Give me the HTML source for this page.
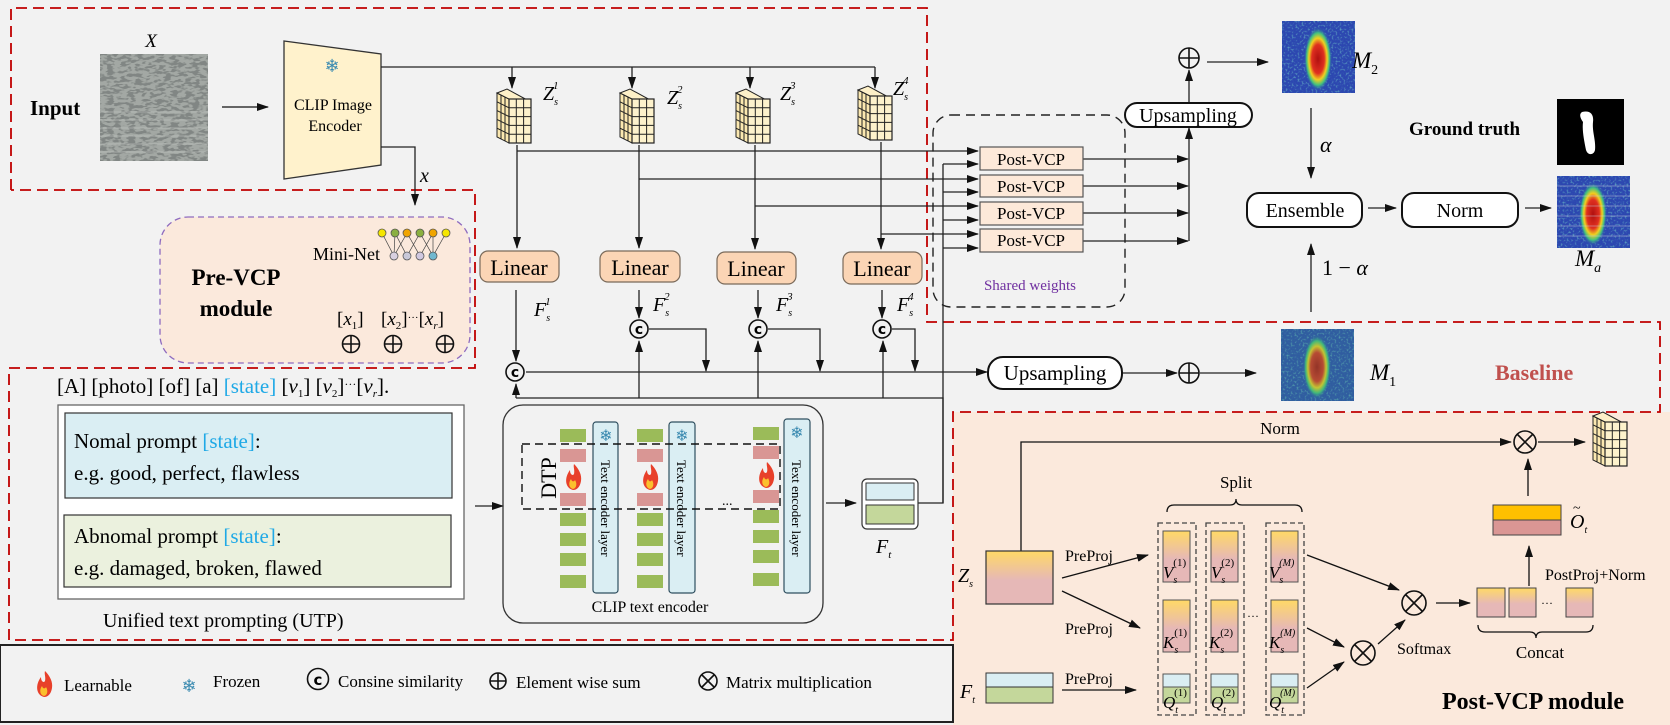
<!DOCTYPE html>
<html><head><meta charset="utf-8"><style>
html,body{margin:0;padding:0;background:#f2f2f2}
svg{display:block;font-family:"Liberation Serif",serif}
</style></head><body>
<svg width="1670" height="725" viewBox="0 0 1670 725" xmlns="http://www.w3.org/2000/svg">
<defs>
<marker id="a" markerUnits="userSpaceOnUse" markerWidth="12" markerHeight="10" refX="11" refY="5" orient="auto"><path d="M0,1 L12,5 L0,9 z" fill="#111"/></marker>
<filter id="tex" x="0" y="0" width="1" height="1"><feTurbulence type="fractalNoise" baseFrequency="0.14 0.35" numOctaves="2" seed="4"/><feColorMatrix type="matrix" values="0 0 0 0 0.22  0 0 0 0 0.24  0 0 0 0 0.23  9 0 0 0 -4.2"/></filter>
<filter id="nz" x="0" y="0" width="1" height="1"><feTurbulence type="fractalNoise" baseFrequency="0.5" numOctaves="1" seed="7"/><feColorMatrix type="matrix" values="0 0 0 0 0.2  0 0 0 0 0.7  0 0 0 0 0.6  3 0 0 0 -1.5"/></filter>
<radialGradient id="hot" cx="0.5" cy="0.5" r="0.5"><stop offset="0" stop-color="#b01010"/><stop offset="0.45" stop-color="#e03020"/><stop offset="0.65" stop-color="#f0d020"/><stop offset="0.82" stop-color="#40c080"/><stop offset="1" stop-color="#2a4ab0" stop-opacity="0"/></radialGradient>
<linearGradient id="yp" x1="0" y1="0" x2="0" y2="1"><stop offset="0" stop-color="#ffd966"/><stop offset="0.55" stop-color="#e6b8b7"/><stop offset="1" stop-color="#e6b8b7"/></linearGradient>
<g id="cube">
<path d="M0,0 L12,6 L12,50 L0,44 Z" fill="#fbe8b0" stroke="#222" stroke-width="1"/>
<path d="M0,0 L10,-4 L32,8 L12,6 Z" fill="#fdf0c8" stroke="#222" stroke-width="1"/>
<rect x="12" y="6" width="22" height="44" fill="#fdf2cc" stroke="#222" stroke-width="1.2"/>
<path d="M19.3,6 V50 M26.6,6 V50 M12,14.8 H34 M12,23.6 H34 M12,32.4 H34 M12,41.2 H34 M4,2 V46 M8,4 V48 M0,8.8 L12,14.8 M0,17.6 L12,23.6 M0,26.4 L12,32.4 M0,35.2 L12,41.2" stroke="#222" stroke-width="1" fill="none"/>
</g>
<g id="flame"><path d="M0,12 C-8,10 -9,0 -3,-8 C-3,-3 0,-2 1,-4 C2,-8 0,-11 1,-14 C6,-9 9,-3 8,3 C7,9 4,12 0,12 Z" fill="#e8402a"/><path d="M0,11 C-4,10 -5,5 -2,1 C-1,4 1,4 2,2 C4,5 4,10 0,11 Z" fill="#fbc02d"/></g>
<g id="hm">
<rect width="73" height="72" fill="#2c47b0"/>
<rect width="73" height="72" filter="url(#nz)" opacity="0.6"/>
<ellipse cx="36" cy="38" rx="14" ry="32" fill="url(#hot)"/>
</g>
</defs>

<rect x="953" y="412" width="717" height="313" fill="#fbe9dc"/>
<g fill="none" stroke="#c00000" stroke-width="1.8" stroke-dasharray="11 6">
<path d="M11,190 V8 H927 V322 H1660 V412 H953 V640 H9 V368 H475 V190 H11"/>
</g>
<rect x="0" y="645" width="953" height="77" fill="#f2f2f2" stroke="#222" stroke-width="2"/>

<text x="151" y="47" font-size="19" font-style="italic" text-anchor="middle">X</text>
<rect x="100" y="54" width="108" height="107" fill="#a3a8a4"/>
<rect x="100" y="54" width="108" height="107" filter="url(#tex)"/>
<g stroke="#c8ccc8" stroke-width="0.8" opacity="0.7"><path d="M100,120H208M100,128H208M100,136H208M100,144H208M100,152H208M100,112H208"/></g>
<text x="30" y="115" font-size="21" font-weight="bold">Input</text>
<path d="M222,107 H268" stroke="#111" stroke-width="1.3" marker-end="url(#a)"/>
<path d="M284,41 L381,54 L381,165 L284,179 Z" fill="#fff2cc" stroke="#333" stroke-width="1.3"/>
<text x="332" y="72" font-size="18" fill="#3a8ab0" text-anchor="middle" font-family="DejaVu Sans">❄</text>
<text x="333" y="110" font-size="16" text-anchor="middle">CLIP Image</text>
<text x="335" y="131" font-size="16" text-anchor="middle">Encoder</text>

<g stroke="#222" stroke-width="1.3" fill="none">
<path d="M381,67 H875"/>
<path d="M381,147 H415 V205" marker-end="url(#a)"/>
<path d="M512,67 V88" marker-end="url(#a)"/><path d="M632,67 V88" marker-end="url(#a)"/><path d="M750,67 V88" marker-end="url(#a)"/><path d="M875,67 V88" marker-end="url(#a)"/>
<path d="M517,145 V248" marker-end="url(#a)"/><path d="M639,145 V248" marker-end="url(#a)"/><path d="M755,145 V249" marker-end="url(#a)"/><path d="M881,142 V249" marker-end="url(#a)"/>
<path d="M517,151 H978" marker-end="url(#a)"/><path d="M639,179 H978" marker-end="url(#a)"/><path d="M755,206 H978" marker-end="url(#a)"/><path d="M881,234 H978" marker-end="url(#a)"/>
<path d="M918,503 H943 V164"/>
<path d="M943,164 H978" marker-end="url(#a)"/><path d="M943,192 H978" marker-end="url(#a)"/><path d="M943,220 H978" marker-end="url(#a)"/><path d="M943,248 H978" marker-end="url(#a)"/>
<path d="M1083,159 H1188" marker-end="url(#a)"/><path d="M1083,186 H1188" marker-end="url(#a)"/><path d="M1083,213 H1188" marker-end="url(#a)"/><path d="M1083,241 H1188" marker-end="url(#a)"/>
<path d="M1189,241 V128" marker-end="url(#a)"/>
<path d="M1189,103 V70" marker-end="url(#a)"/>
<path d="M1207,62 H1268" marker-end="url(#a)"/>
<path d="M1311,108 V178" marker-end="url(#a)"/>
<path d="M1311,312 V244" marker-end="url(#a)"/>
<path d="M1368,208 H1396" marker-end="url(#a)"/>
<path d="M1525,208 H1551" marker-end="url(#a)"/>
<path d="M516,290 V361" marker-end="url(#a)"/>
<path d="M639,290 V318" marker-end="url(#a)"/><path d="M758,290 V318" marker-end="url(#a)"/><path d="M882,290 V318" marker-end="url(#a)"/>
<path d="M649,329 H706 V371" marker-end="url(#a)"/><path d="M768,329 H820 V371" marker-end="url(#a)"/><path d="M892,329 H915 V371" marker-end="url(#a)"/>
<path d="M526,372 H987" marker-end="url(#a)"/>
<path d="M1122,373 H1177" marker-end="url(#a)"/>
<path d="M1200,373 H1256" marker-end="url(#a)"/>
<path d="M516,398 H943 V503"/>
<path d="M516,398 V384" marker-end="url(#a)"/><path d="M639,398 V341" marker-end="url(#a)"/><path d="M758,398 V341" marker-end="url(#a)"/><path d="M883,398 V341" marker-end="url(#a)"/>
<path d="M413,265 V301" marker-end="url(#a)"/>
<path d="M475,506 H503" marker-end="url(#a)"/>
<path d="M826,503 H856" marker-end="url(#a)"/>
</g>

<use href="#cube" x="497" y="93"/><use href="#cube" x="620" y="93"/><use href="#cube" x="736" y="93"/><use href="#cube" x="858" y="90"/>
<g font-size="20" font-style="italic">
<text x="543" y="100">Z<tspan font-size="10" dy="5">s</tspan><tspan font-size="11" dx="-5" dy="-16">1</tspan></text>
<text x="667" y="104">Z<tspan font-size="10" dy="5">s</tspan><tspan font-size="11" dx="-5" dy="-16">2</tspan></text>
<text x="780" y="100">Z<tspan font-size="10" dy="5">s</tspan><tspan font-size="11" dx="-5" dy="-16">3</tspan></text>
<text x="893" y="95">Z<tspan font-size="10" dy="5">s</tspan><tspan font-size="11" dx="-5" dy="-16">4</tspan></text>
<text x="534" y="316">F<tspan font-size="10" dy="5">s</tspan><tspan font-size="11" dx="-5" dy="-16">1</tspan></text>
<text x="653" y="311">F<tspan font-size="10" dy="5">s</tspan><tspan font-size="11" dx="-5" dy="-16">2</tspan></text>
<text x="776" y="311">F<tspan font-size="10" dy="5">s</tspan><tspan font-size="11" dx="-5" dy="-16">3</tspan></text>
<text x="897" y="311">F<tspan font-size="10" dy="5">s</tspan><tspan font-size="11" dx="-5" dy="-16">4</tspan></text>
<text x="420" y="182" font-size="20">x</text>
</g>

<g fill="#fbd5b5" stroke="#7a6a5a" stroke-width="1.2">
<rect x="480" y="251" width="79" height="31" rx="8"/><rect x="600" y="251" width="80" height="31" rx="8"/><rect x="717" y="252" width="79" height="32" rx="8"/><rect x="843" y="252" width="79" height="32" rx="8"/>
</g>
<g font-size="22" text-anchor="middle"><text x="519" y="275">Linear</text><text x="640" y="275">Linear</text><text x="756" y="276">Linear</text><text x="882" y="276">Linear</text></g>

<g fill="#f2f2f2" stroke="#111" stroke-width="1.6"><circle cx="515" cy="372" r="9"/><circle cx="639" cy="329" r="9"/><circle cx="758" cy="329" r="9"/><circle cx="882" cy="329" r="9"/></g>
<g font-size="14" text-anchor="middle" font-family="DejaVu Sans" font-weight="bold"><text x="515" y="377">c</text><text x="639" y="334">c</text><text x="758" y="334">c</text><text x="882" y="334">c</text></g>

<rect x="933" y="115" width="192" height="192" rx="18" fill="none" stroke="#222" stroke-width="1.4" stroke-dasharray="9 6"/>
<text x="1030" y="290" font-size="15" fill="#7030a0" text-anchor="middle">Shared weights</text>
<g fill="#fde9d9" stroke="#555" stroke-width="1.2">
<rect x="980" y="147" width="103" height="23"/><rect x="980" y="175" width="103" height="22"/><rect x="980" y="202" width="103" height="23"/><rect x="980" y="229" width="103" height="23"/>
</g>
<g font-size="17" text-anchor="middle"><text x="1031" y="165">Post-VCP</text><text x="1031" y="192">Post-VCP</text><text x="1031" y="219">Post-VCP</text><text x="1031" y="246">Post-VCP</text></g>

<rect x="1125" y="103" width="127" height="24" rx="12" fill="#fff" stroke="#111" stroke-width="2"/>
<text x="1188" y="122" font-size="20" text-anchor="middle">Upsampling</text>
<g fill="none" stroke="#111" stroke-width="1.6"><circle cx="1189" cy="58" r="10"/><path d="M1179,58 H1199 M1189,48 V68"/></g>
<use href="#hm" x="1282" y="21"/>
<text x="1352" y="68" font-size="23" font-style="italic">M<tspan font-size="14" font-style="normal" dy="6">2</tspan></text>
<text x="1320" y="152" font-size="22" font-style="italic">α</text>
<text x="1322" y="275" font-size="22">1 − <tspan font-style="italic">α</tspan></text>
<rect x="1247" y="193" width="115" height="34" rx="12" fill="#fff" stroke="#111" stroke-width="2"/>
<text x="1305" y="217" font-size="20" text-anchor="middle">Ensemble</text>
<rect x="1402" y="193" width="116" height="34" rx="12" fill="#fff" stroke="#111" stroke-width="2"/>
<text x="1460" y="217" font-size="20" text-anchor="middle">Norm</text>
<text x="1409" y="135" font-size="19" font-weight="bold">Ground truth</text>
<rect x="1557" y="99" width="67" height="66" fill="#000"/>
<path d="M1582,112 C1590,110 1594,114 1593,122 C1592,132 1596,140 1595,150 C1594,155 1588,156 1586,150 C1584,140 1582,130 1583,122 C1580,118 1579,114 1582,112 Z" fill="#fff"/>
<use href="#hm" x="1557" y="176"/>
<g stroke="#ccd" stroke-width="0.8" opacity="0.6"><path d="M1557,186H1630M1557,196H1630M1557,206H1630M1557,216H1630M1557,226H1630M1557,236H1630"/></g>
<text x="1575" y="266" font-size="23" font-style="italic">M<tspan font-size="14" dy="6">a</tspan></text>

<rect x="988" y="357" width="134" height="32" rx="15" fill="#fff" stroke="#111" stroke-width="2"/>
<text x="1055" y="380" font-size="21" text-anchor="middle">Upsampling</text>
<g fill="none" stroke="#111" stroke-width="1.6"><circle cx="1189" cy="373" r="10"/><path d="M1179,373 H1199 M1189,363 V383"/></g>
<use href="#hm" x="1281" y="329"/>
<rect x="1281" y="329" width="73" height="72" fill="#3da070" opacity="0.25"/>
<text x="1370" y="380" font-size="23" font-style="italic">M<tspan font-size="14" font-style="normal" dy="6">1</tspan></text>
<text x="1495" y="380" font-size="22" font-weight="bold" fill="#c0504d">Baseline</text>

<rect x="160" y="217" width="310" height="146" rx="28" fill="#fbe9dc" stroke="#8e6bbf" stroke-width="1.3" stroke-dasharray="6 4"/>
<text x="236" y="285" font-size="23" font-weight="bold" text-anchor="middle">Pre-VCP</text>
<text x="236" y="316" font-size="23" font-weight="bold" text-anchor="middle">module</text>
<text x="313" y="260" font-size="18">Mini-Net</text>
<g stroke="#444" stroke-width="0.7"><path d="M382,233L394,256M395,233L394,256M395,233L407,256M407,233L394,256M407,233L420,256M420,233L407,256M420,233L433,256M433,233L420,256M433,233L433,256M446,233L433,256"/></g>
<g stroke="#555" stroke-width="0.8"><circle cx="382" cy="233" r="4" fill="#f5e600"/><circle cx="395" cy="233" r="4" fill="#8ab040"/><circle cx="407" cy="233" r="4" fill="#f0a500"/><circle cx="420" cy="233" r="4" fill="#8ab040"/><circle cx="433" cy="233" r="4" fill="#f0a500"/><circle cx="446" cy="233" r="4" fill="#f5e600"/>
<circle cx="394" cy="256" r="4" fill="#d8d0e0"/><circle cx="407" cy="256" r="4" fill="#c8c8d8"/><circle cx="420" cy="256" r="4" fill="#d0c8e0"/><circle cx="433" cy="256" r="4" fill="#70b8d0"/></g>
<text x="337" y="325" font-size="19">[<tspan font-style="italic">x</tspan><tspan font-size="11" dy="4">1</tspan><tspan dy="-4">]</tspan></text>
<text x="381" y="325" font-size="19">[<tspan font-style="italic">x</tspan><tspan font-size="11" dy="4">2</tspan><tspan dy="-4">]</tspan><tspan font-size="11" dy="-4">···</tspan><tspan dy="4">[</tspan><tspan font-style="italic">x</tspan><tspan font-size="11" font-style="italic" dy="4">r</tspan><tspan dy="-4">]</tspan></text>
<g fill="none" stroke="#111" stroke-width="1.6"><circle cx="351" cy="344" r="8.5"/><path d="M342.5,344H359.5M351,335.5V352.5"/><circle cx="393" cy="344" r="8.5"/><path d="M384.5,344H401.5M393,335.5V352.5"/><circle cx="445" cy="344" r="8.5"/><path d="M436.5,344H453.5M445,335.5V352.5"/></g>

<text x="57" y="393" font-size="21">[A] [photo] [of] [a] <tspan fill="#1fa9e6">[state]</tspan> [<tspan font-style="italic">v</tspan><tspan font-size="11" dy="4">1</tspan><tspan dy="-4">]  [</tspan><tspan font-style="italic">v</tspan><tspan font-size="11" dy="4">2</tspan><tspan dy="-4">]</tspan><tspan font-size="12" dy="-5">···</tspan><tspan dy="5">[</tspan><tspan font-style="italic">v</tspan><tspan font-size="11" font-style="italic" dy="4">r</tspan><tspan dy="-4">].</tspan></text>
<rect x="58" y="405" width="406" height="194" fill="#fff" stroke="#666" stroke-width="1.3"/>
<rect x="65" y="413" width="387" height="85" fill="#daeef3" stroke="#333" stroke-width="1.2"/>
<rect x="64" y="515" width="387" height="72" fill="#ebf1de" stroke="#333" stroke-width="1.2"/>
<g font-size="21"><text x="74" y="448">Nomal prompt <tspan fill="#1fa9e6">[state]</tspan>:</text>
<text x="74" y="480">e.g.  good, perfect, flawless</text>
<text x="74" y="543">Abnomal prompt <tspan fill="#1fa9e6">[state]</tspan>:</text>
<text x="74" y="575">e.g. damaged, broken, flawed</text></g>
<text x="103" y="627" font-size="20">Unified text prompting (UTP)</text>

<rect x="503" y="405" width="320" height="218" rx="20" fill="none" stroke="#333" stroke-width="1.3"/>
<text x="650" y="612" font-size="16" text-anchor="middle">CLIP text encoder</text>
<g>
<g fill="#9bbb59"><rect x="560" y="429" width="26" height="13"/><rect x="560" y="513" width="26" height="13"/><rect x="560" y="533" width="26" height="13"/><rect x="560" y="553" width="26" height="13"/><rect x="560" y="575" width="26" height="13"/>
<rect x="637" y="429" width="26" height="13"/><rect x="637" y="513" width="26" height="13"/><rect x="637" y="533" width="26" height="13"/><rect x="637" y="553" width="26" height="13"/><rect x="637" y="575" width="26" height="13"/>
<rect x="753" y="427" width="26" height="13"/><rect x="753" y="510" width="26" height="13"/><rect x="753" y="530" width="26" height="13"/><rect x="753" y="550" width="26" height="13"/><rect x="753" y="573" width="26" height="13"/></g>
<g fill="#d99694"><rect x="560" y="449" width="26" height="13"/><rect x="560" y="493" width="26" height="13"/><rect x="637" y="449" width="26" height="13"/><rect x="637" y="493" width="26" height="13"/><rect x="753" y="446" width="26" height="13"/><rect x="753" y="490" width="26" height="13"/></g>
<use href="#flame" x="573" y="478"/><use href="#flame" x="650" y="478"/><use href="#flame" x="766" y="476"/>
</g>
<g fill="#daeef3" stroke="#2f4f5f" stroke-width="1.2"><rect x="593" y="422" width="25" height="171" rx="3"/><rect x="669" y="422" width="26" height="171" rx="3"/><rect x="784" y="419" width="26" height="174" rx="3"/></g>
<g font-size="16" fill="#3a8ab0" text-anchor="middle" font-family="DejaVu Sans"><text x="606" y="441">❄</text><text x="682" y="441">❄</text><text x="797" y="438">❄</text></g>
<g font-size="13"><text transform="translate(601,460) rotate(90)">Text encoder layer</text><text transform="translate(677,460) rotate(90)">Text encoder layer</text><text transform="translate(792,460) rotate(90)">Text encoder layer</text></g>
<rect x="522" y="444" width="258" height="65" fill="none" stroke="#111" stroke-width="1.4" stroke-dasharray="8 5"/>
<text transform="translate(556,478) rotate(-90)" font-size="22" text-anchor="middle">DTP</text>
<text x="722" y="505" font-size="14">...</text>
<rect x="862" y="479" width="56" height="50" rx="5" fill="#fff" stroke="#333" stroke-width="1.2"/>
<rect x="866" y="483" width="48" height="17" fill="#daeef3" stroke="#333"/><rect x="866" y="505" width="48" height="19" fill="#c4d79b" stroke="#333"/>
<text x="876" y="553" font-size="20" font-style="italic">F<tspan font-size="11" dy="5">t</tspan></text>

<g font-size="17">
<use href="#flame" x="44" y="685"/><text x="64" y="691">Learnable</text>
<text x="189" y="692" font-size="18" fill="#3a8ab0" text-anchor="middle" font-family="DejaVu Sans">❄</text><text x="213" y="687">Frozen</text>
<circle cx="318" cy="679" r="10.5" fill="none" stroke="#111" stroke-width="1.6"/><text x="318" y="685" font-size="15" text-anchor="middle" font-family="DejaVu Sans" font-weight="bold">c</text><text x="338" y="687">Consine similarity</text>
<g fill="none" stroke="#111" stroke-width="1.6"><circle cx="498" cy="681" r="8"/><path d="M490,681H506M498,673V689"/><circle cx="708" cy="681" r="9"/><path d="M702,675L714,687M714,675L702,687"/></g>
<text x="516" y="688">Element wise sum</text>
<text x="726" y="688">Matrix multiplication</text>
</g>

<text x="1280" y="434" font-size="17" text-anchor="middle">Norm</text>
<g stroke="#111" stroke-width="1.3" fill="none">
<path d="M1021,551 V442 H1511" marker-end="url(#a)"/>
<path d="M1538,442 H1585" marker-end="url(#a)"/>
<path d="M1062,578 L1148,555" marker-end="url(#a)"/>
<path d="M1062,591 L1140,628" marker-end="url(#a)"/>
<path d="M1062,690 H1136" marker-end="url(#a)"/>
<path d="M1307,555 L1399,590" marker-end="url(#a)"/>
<path d="M1307,628 L1344,647" marker-end="url(#a)"/>
<path d="M1307,688 L1344,662" marker-end="url(#a)"/>
<path d="M1378,644 L1405,620" marker-end="url(#a)"/>
<path d="M1436,603 H1470" marker-end="url(#a)"/>
<path d="M1529,586 V546" marker-end="url(#a)"/>
<path d="M1528,496 V459" marker-end="url(#a)"/>
<path d="M1167,512 Q1167,505 1174,505 H1230 Q1236,505 1236,499 Q1236,505 1242,505 H1295 Q1302,505 1302,512"/>
<path d="M1478,625 Q1478,632 1485,632 H1530 Q1536,632 1536,638 Q1536,632 1542,632 H1586 Q1593,632 1593,625"/>
</g>
<g fill="none" stroke="#111" stroke-width="1.6"><circle cx="1525" cy="442" r="11"/><path d="M1517,434L1533,450M1533,434L1517,450"/><circle cx="1414" cy="603" r="12"/><path d="M1405.5,594.5L1422.5,611.5M1422.5,594.5L1405.5,611.5"/><circle cx="1363" cy="653" r="12"/><path d="M1354.5,644.5L1371.5,661.5M1371.5,644.5L1354.5,661.5"/></g>
<use href="#cube" x="1593" y="416"/>
<rect x="986" y="551" width="67" height="53" fill="url(#yp)" stroke="#333" stroke-width="1.2"/>
<text x="958" y="582" font-size="20" font-style="italic">Z<tspan font-size="10" dy="5">s</tspan></text>
<rect x="986" y="673" width="67" height="14" fill="#daeef3" stroke="#333"/><rect x="986" y="687" width="67" height="16" fill="#c4d79b" stroke="#333"/>
<text x="960" y="698" font-size="20" font-style="italic">F<tspan font-size="10" dy="5">t</tspan></text>
<g font-size="16"><text x="1065" y="561">PreProj</text><text x="1065" y="634">PreProj</text><text x="1065" y="684">PreProj</text></g>
<text x="1236" y="488" font-size="17" text-anchor="middle">Split</text>
<g fill="none" stroke="#444" stroke-width="1.3" stroke-dasharray="5 3"><rect x="1158" y="523" width="38" height="192"/><rect x="1206" y="523" width="38" height="192"/><rect x="1266" y="523" width="38" height="192"/></g>
<g stroke="#555" stroke-width="1"><rect x="1163" y="531" width="27" height="51" fill="url(#yp)"/><rect x="1211" y="531" width="27" height="51" fill="url(#yp)"/><rect x="1271" y="531" width="27" height="51" fill="url(#yp)"/>
<rect x="1163" y="600" width="27" height="52" fill="url(#yp)"/><rect x="1211" y="600" width="27" height="52" fill="url(#yp)"/><rect x="1271" y="600" width="27" height="52" fill="url(#yp)"/>
<rect x="1163" y="674" width="27" height="13" fill="#daeef3"/><rect x="1163" y="687" width="27" height="16" fill="#c4d79b"/><rect x="1211" y="674" width="27" height="13" fill="#daeef3"/><rect x="1211" y="687" width="27" height="16" fill="#c4d79b"/><rect x="1271" y="674" width="27" height="13" fill="#daeef3"/><rect x="1271" y="687" width="27" height="16" fill="#c4d79b"/></g>
<g font-size="17" font-style="italic">
<text x="1163" y="578">V<tspan font-size="10" dy="5">s</tspan><tspan font-size="11" font-style="normal" dx="-4" dy="-17">(1)</tspan></text>
<text x="1211" y="578">V<tspan font-size="10" dy="5">s</tspan><tspan font-size="11" font-style="normal" dx="-4" dy="-17">(2)</tspan></text>
<text x="1269" y="578">V<tspan font-size="10" dy="5">s</tspan><tspan font-size="10" dx="-4" dy="-17">(M)</tspan></text>
<text x="1163" y="648">K<tspan font-size="10" dy="5">s</tspan><tspan font-size="11" font-style="normal" dx="-4" dy="-17">(1)</tspan></text>
<text x="1209" y="648">K<tspan font-size="10" dy="5">s</tspan><tspan font-size="11" font-style="normal" dx="-4" dy="-17">(2)</tspan></text>
<text x="1269" y="648">K<tspan font-size="10" dy="5">s</tspan><tspan font-size="10" dx="-4" dy="-17">(M)</tspan></text>
<text x="1163" y="708">Q<tspan font-size="10" dy="5">t</tspan><tspan font-size="11" font-style="normal" dx="-4" dy="-17">(1)</tspan></text>
<text x="1211" y="708">Q<tspan font-size="10" dy="5">t</tspan><tspan font-size="11" font-style="normal" dx="-4" dy="-17">(2)</tspan></text>
<text x="1269" y="708">Q<tspan font-size="10" dy="5">t</tspan><tspan font-size="10" dx="-4" dy="-17">(M)</tspan></text>
</g>
<text x="1247" y="620" font-size="12">···</text>
<text x="1397" y="654" font-size="16">Softmax</text>
<g stroke="#444" stroke-width="1"><rect x="1477" y="588" width="28" height="29" fill="url(#yp)"/><rect x="1509" y="588" width="27" height="29" fill="url(#yp)"/><rect x="1566" y="588" width="27" height="29" fill="url(#yp)"/></g>
<text x="1541" y="607" font-size="12">···</text>
<text x="1540" y="658" font-size="17" text-anchor="middle">Concat</text>
<text x="1545" y="580" font-size="16">PostProj+Norm</text>
<rect x="1493" y="505" width="68" height="15" fill="#ffc000" stroke="#444"/><rect x="1493" y="520" width="68" height="15" fill="#da9694" stroke="#444"/>
<text x="1570" y="528" font-size="20" font-style="italic">O<tspan font-size="10" dy="5">t</tspan></text>
<text x="1573" y="512" font-size="14">~</text>
<text x="1442" y="709" font-size="24" font-weight="bold">Post-VCP module</text>
</svg>
</body></html>
